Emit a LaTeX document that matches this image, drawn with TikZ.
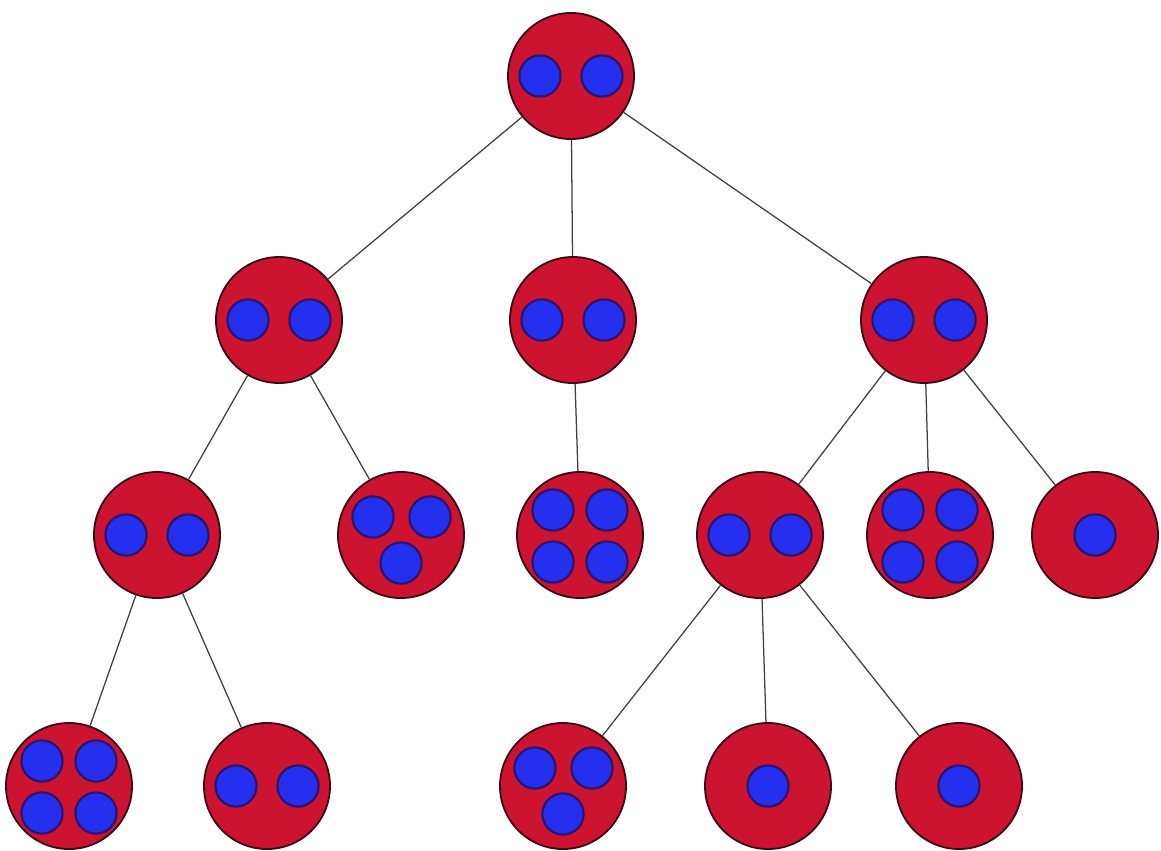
\documentclass[tikz,border=0pt]{standalone}
\usetikzlibrary{calc}
\definecolor{cellred}{RGB}{204,20,48}
\definecolor{cellrim}{RGB}{60,10,20}
\definecolor{nucblue}{RGB}{36,48,238}
\definecolor{nucrim}{RGB}{45,20,110}
\begin{document}
\begin{tikzpicture}[x=0.025cm, y=-0.025cm,
    cell/.style={circle, draw=cellrim, fill=cellred, line width=1.3pt, minimum size=3.15cm, inner sep=0pt},
    nuc/.style={circle, draw=nucrim, fill=nucblue, line width=1.6pt, minimum size=1.03cm, inner sep=0pt},
    link/.style={draw=black!75, line width=0.9pt}
  ]
    \useasboundingbox (0,0) rectangle (1161,850);
    % celulas por nivel
    \node[cell] (r)   at (571,76)  {};
    \node[cell] (a)   at (279,320) {};
    \node[cell] (b)   at (573,320) {};
    \node[cell] (c)   at (924,320) {};
    \node[cell] (aa)  at (157,535) {};
    \node[cell] (ab)  at (401,535) {};
    \node[cell] (ba)  at (580,535) {};
    \node[cell] (ca)  at (760,535) {};
    \node[cell] (cb)  at (930,535) {};
    \node[cell] (cc)  at (1095,535) {};
    \node[cell] (aaa) at (69,786)  {};
    \node[cell] (aab) at (267,786) {};
    \node[cell] (caa) at (563,786) {};
    \node[cell] (cab) at (768,786) {};
    \node[cell] (cac) at (959,786) {};
    % aristas
    \draw[link] (r)--(a) (r)--(b) (r)--(c);
    \draw[link] (a)--(aa) (a)--(ab) (b)--(ba);
    \draw[link] (c)--(ca) (c)--(cb) (c)--(cc);
    \draw[link] (aa)--(aaa) (aa)--(aab);
    \draw[link] (ca)--(caa) (ca)--(cab) (ca)--(cac);
    % nucleos: dos
    \foreach \cel in {r,a,b,c,aa,ca,aab} {
      \node[nuc] (\cel-l) at ($(\cel)+(-31,0)$) {};
      \node[nuc] (\cel-r) at ($(\cel)+(31,0)$)  {};
    }
    % nucleos: tres
    \foreach \cel in {ab,caa} {
      \node[nuc] (\cel-l) at ($(\cel)+(-28,-18)$) {};
      \node[nuc] (\cel-r) at ($(\cel)+(29,-18)$)  {};
      \node[nuc] (\cel-b) at ($(\cel)+(0,28)$)    {};
    }
    % nucleos: cuatro
    \foreach \cel in {ba,cb,aaa} {
      \node[nuc] (\cel-tl) at ($(\cel)+(-27,-25)$) {};
      \node[nuc] (\cel-tr) at ($(\cel)+(27,-25)$)  {};
      \node[nuc] (\cel-bl) at ($(\cel)+(-27,27)$)  {};
      \node[nuc] (\cel-br) at ($(\cel)+(27,27)$)   {};
    }
    % nucleos: uno
    \foreach \cel in {cc,cab,cac} {
      \node[nuc] (\cel-m) at (\cel) {};
    }
\end{tikzpicture}
\end{document}
